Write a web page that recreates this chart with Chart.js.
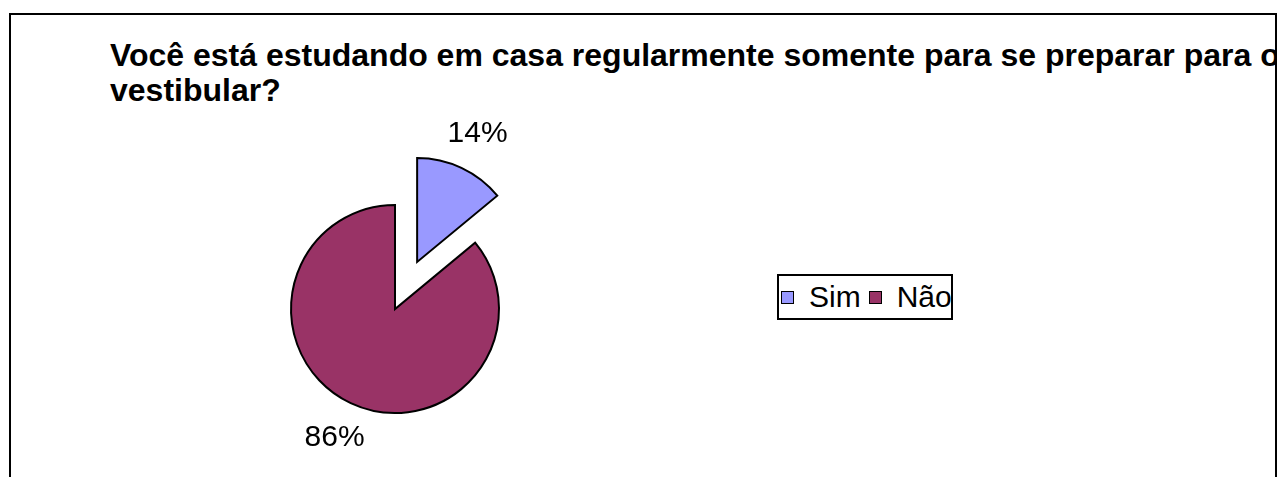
<!DOCTYPE html>
<html lang="pt">
<head>
<meta charset="utf-8">
<title>Estudo em casa para o vestibular</title>
<script src="https://cdn.jsdelivr.net/npm/chart.js@4.4.0/dist/chart.umd.min.js"></script>
<style>
	html, body {
		margin: 0;
		padding: 0;
		background: #fff;
	}

	.chart-frame {
		position: absolute;
		left: 9px;
		top: 13px;
		width: 1264px;
		height: 480px;
		border: 2px solid #000;
		overflow: hidden;
		font-family: "Liberation Sans", Arial, sans-serif;
	}

	.chart-title {
		position: absolute;
		left: 99px;
		top: 23px;
		width: 1200px;
		font-size: 32px;
		font-weight: bold;
		line-height: 35px;
		color: #000;
	}

	#chartPie {
		position: absolute;
		left: 184px;
		top: 94px;
	}

	.chart-legend {
		position: absolute;
		left: 766px;
		top: 259px;
		width: 172px;
		height: 42px;
		border: 2px solid #000;
		display: flex;
		align-items: center;
		white-space: nowrap;
		font-size: 30px;
		color: #000;
	}

	.legend-item {
		display: flex;
		align-items: center;
		margin-left: 8px;
	}

	.legend-item:first-child {
		margin-left: 2px;
	}

	.legend-box {
		width: 13px;
		height: 13px;
		box-sizing: border-box;
		border: 1px solid #000;
	}

	.legend-text {
		margin-left: 15px;
	}
</style>
</head>
<body>

<div class="chart-frame">
	<div class="chart-title">Você está estudando em casa regularmente somente para se preparar para o vestibular?</div>
	<canvas id="chartPie" width="400" height="400"></canvas>
	<div class="chart-legend" id="chartLegend"></div>
</div>

<script>
	// Dados do gráfico
	const categories = ['Sim', 'Não'];
	const percentValues = [14, 86];
	const sliceColors = ['#9999FF', '#993366'];
	// fatia destacada (Sim) afastada do centro, em px
	const explodeDistance = [52, 0];

	document.addEventListener('DOMContentLoaded', () => {

		//** (Start) Fatia destacada **//
		const explodeSlices = {
			id: 'explodeSlices',
			afterDatasetsUpdate(chart) {
				const meta = chart.getDatasetMeta(0);
				meta.data.forEach((arc, i) => {
					const dist = explodeDistance[i] || 0;
					if (!dist) return;
					const mid = (arc.startAngle + arc.endAngle) / 2;
					arc.x += Math.cos(mid) * dist;
					arc.y += Math.sin(mid) * dist;
				});
			}
		};
		//** (End) Fatia destacada **//

		//** (Start) Rótulos de porcentagem **//
		const percentLabels = {
			id: 'percentLabels',
			afterDatasetsDraw(chart) {
				const ctx = chart.ctx;
				const meta = chart.getDatasetMeta(0);
				const values = chart.data.datasets[0].data;
				const total = values.reduce((a, b) => a + b, 0);

				ctx.save();
				ctx.font = '30px "Liberation Sans", Arial, sans-serif';
				ctx.fillStyle = '#000';
				ctx.textAlign = 'center';
				ctx.textBaseline = 'middle';

				meta.data.forEach((arc, i) => {
					const mid = (arc.startAngle + arc.endAngle) / 2;
					const r = arc.outerRadius + 38;
					const x = arc.x + Math.cos(mid) * r;
					const y = arc.y + Math.sin(mid) * r;
					ctx.fillText(Math.round(values[i] / total * 100) + '%', x, y);
				});
				ctx.restore();
			}
		};
		//** (End) Rótulos de porcentagem **//

		const canvasPie = document.getElementById('chartPie');

		const chartPie = new Chart(canvasPie, {
			type: 'pie',
			data: {
				labels: categories,
				datasets: [{
					data: percentValues,
					backgroundColor: sliceColors,
					borderColor: '#000',
					borderWidth: 2,
					borderJoinStyle: 'miter',
				}]
			},
			options: {
				responsive: false,
				animation: false,
				events: [],
				radius: 104,
				layout: {
					padding: 0
				},
				plugins: {
					legend: {
						display: false
					},
					title: {
						display: false
					},
					tooltip: {
						enabled: false
					}
				}
			},
			plugins: [explodeSlices, percentLabels]
		});

		//** (Start) Legenda HTML **//
		const legendEl = document.getElementById('chartLegend');
		categories.forEach((label, i) => {
			const item = document.createElement('div');
			item.className = 'legend-item';

			const box = document.createElement('span');
			box.className = 'legend-box';
			box.style.background = sliceColors[i];

			const text = document.createElement('span');
			text.className = 'legend-text';
			text.textContent = label;

			item.appendChild(box);
			item.appendChild(text);
			legendEl.appendChild(item);
		});
		//** (End) Legenda HTML **//

	});
</script>
</body>
</html>
